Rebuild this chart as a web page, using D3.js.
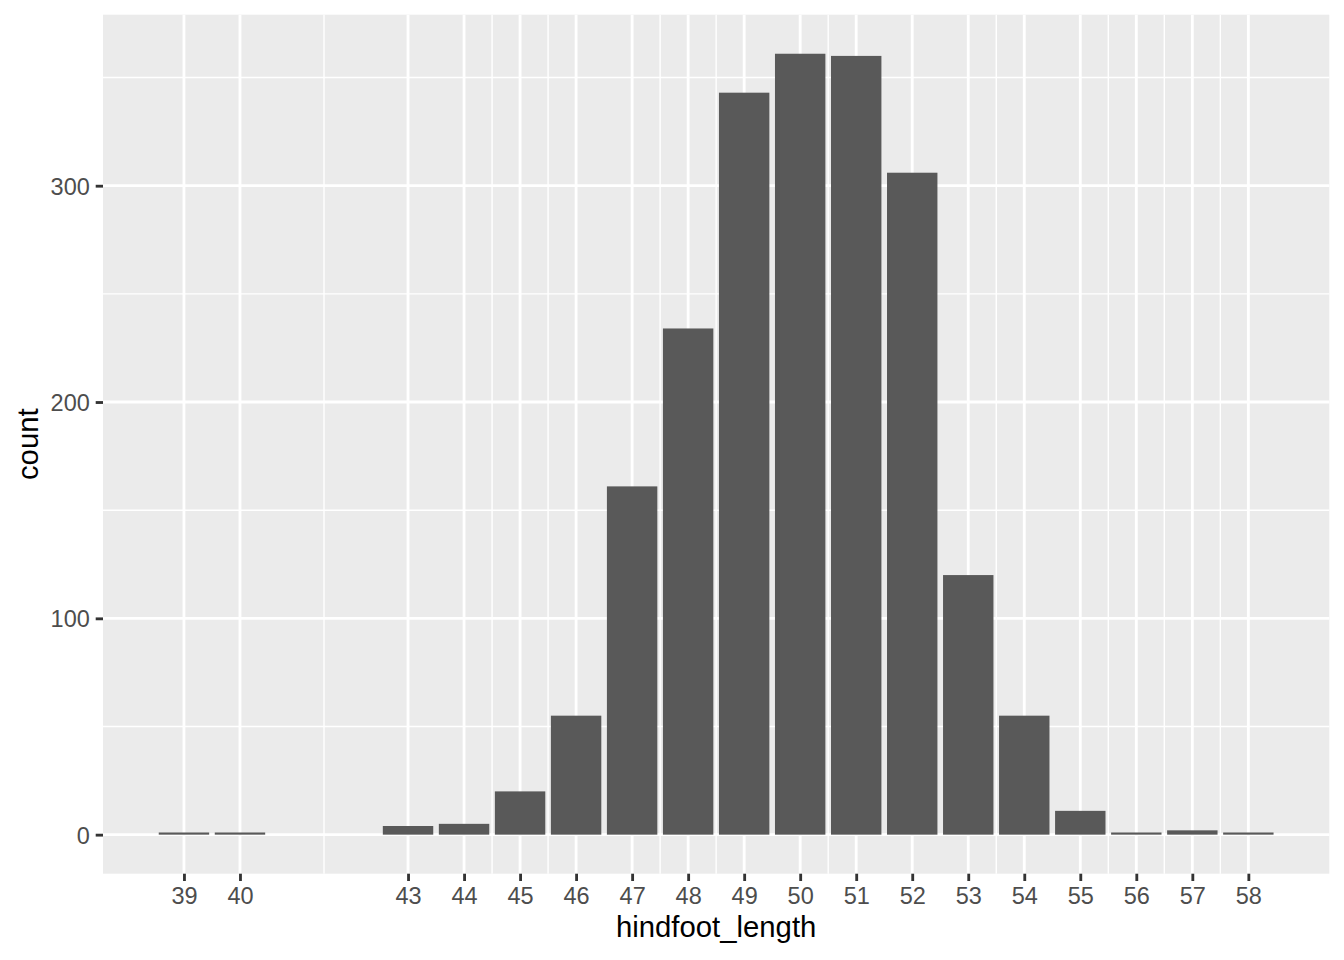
<!DOCTYPE html>
<html>
<head>
<meta charset="utf-8">
<script src="https://cdn.jsdelivr.net/npm/d3@7"></script>
<style>
  html, body { margin: 0; padding: 0; background: #fff; }
  svg { display: block; font-family: "Liberation Sans", Arial, sans-serif; }
</style>
</head>
<body>
<div id="chart"></div>
<script>
// hindfoot_length values and their counts
const hindfoot = [39, 40, 43, 44, 45, 46, 47, 48, 49, 50, 51, 52, 53, 54, 55, 56, 57, 58]
const counts = [1, 1, 4, 5, 20, 55, 161, 234, 343, 361, 360, 306, 120, 55, 11, 1, 2, 1]
// minor vertical grid lines as they appear in the picture
const xMinor = [41.5, 44.5, 45.5, 47.5, 48.5, 50.5, 53.5, 55.5, 56.5, 57.5]
const yTicks = [0, 100, 200, 300]
const yMinor = [50, 150, 250, 350]

const W = 1344, H = 960
const margin = { top: 14.7, right: 14.7, bottom: 86.3, left: 103 }
const width = W - margin.left - margin.right
const height = H - margin.top - margin.bottom

const svg = d3.select('#chart').append('svg')
	.attr('width', W)
	.attr('height', H)

const g = svg.append('g')
	.attr('transform', 'translate(' + margin.left + ',' + margin.top + ')')

// continuous x with ggplot's 5% expansion around the bar extents
const xLo = d3.min(hindfoot) - 0.45, xHi = d3.max(hindfoot) + 0.45
const xPad = (xHi - xLo) * 0.05
const x = d3.scaleLinear()
	.domain([xLo - xPad, xHi + xPad])
	.range([0, width])

const yMax = d3.max(counts)
const y = d3.scaleLinear()
	.domain([-yMax * 0.05, yMax * 1.05])
	.range([height, 0])

// panel
g.append('rect')
	.attr('width', width)
	.attr('height', height)
	.attr('fill', '#EBEBEB')

// minor grid
g.selectAll('.ymin').data(yMinor).enter().append('line')
	.attr('x1', 0).attr('x2', width)
	.attr('y1', d => y(d)).attr('y2', d => y(d))
	.attr('stroke', '#fff').attr('stroke-width', 1.42)
g.selectAll('.xmin').data(xMinor).enter().append('line')
	.attr('y1', 0).attr('y2', height)
	.attr('x1', d => x(d)).attr('x2', d => x(d))
	.attr('stroke', '#fff').attr('stroke-width', 1.42)

// major grid
g.selectAll('.ymaj').data(yTicks).enter().append('line')
	.attr('x1', 0).attr('x2', width)
	.attr('y1', d => y(d)).attr('y2', d => y(d))
	.attr('stroke', '#fff').attr('stroke-width', 2.84)
g.selectAll('.xmaj').data(hindfoot).enter().append('line')
	.attr('y1', 0).attr('y2', height)
	.attr('x1', d => x(d)).attr('x2', d => x(d))
	.attr('stroke', '#fff').attr('stroke-width', 2.84)

// bars
g.selectAll('.bar').data(hindfoot).enter().append('rect')
	.attr('class', 'bar')
	.attr('x', d => x(d - 0.45))
	.attr('width', d => x(d + 0.45) - x(d - 0.45))
	.attr('y', (d, i) => y(counts[i]))
	.attr('height', (d, i) => y(0) - y(counts[i]))
	.attr('fill', '#595959')

// axes
const xAxis = g.append('g')
	.attr('transform', 'translate(0,' + height + ')')
	.call(d3.axisBottom(x).tickValues(hindfoot).tickSize(7.3).tickPadding(5))
const yAxis = g.append('g')
	.call(d3.axisLeft(y).tickValues(yTicks).tickSize(7.3).tickPadding(5.9))

;[xAxis, yAxis].forEach(a => {
	a.select('.domain').remove()
	a.selectAll('.tick line').attr('stroke', '#333333').attr('stroke-width', 2.84)
	a.selectAll('.tick text')
		.attr('fill', '#4D4D4D')
		.style('font-size', '23.5px')
		.style('font-family', '"Liberation Sans", Arial, sans-serif')
})
xAxis.selectAll('.tick text').attr('dy', null).attr('y', 30.5)
yAxis.selectAll('.tick text').attr('dy', null).attr('y', 8.4)

// titles
svg.append('text')
	.attr('x', margin.left + width / 2)
	.attr('y', 937)
	.attr('text-anchor', 'middle')
	.style('font-size', '29.3px')
	.attr('fill', '#000')
	.text('hindfoot_length')

svg.append('text')
	.attr('transform', 'translate(37.5,' + (margin.top + height / 2) + ') rotate(-90)')
	.attr('text-anchor', 'middle')
	.style('font-size', '29.3px')
	.attr('fill', '#000')
	.text('count')
</script>
</body>
</html>
